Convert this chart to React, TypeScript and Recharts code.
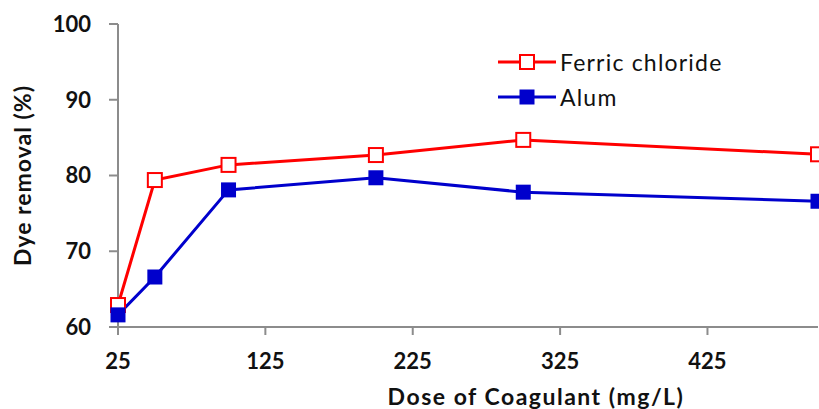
import React from 'react';
import { LineChart, Line, XAxis, YAxis, Legend } from 'recharts';

const doses = [25, 50, 100, 200, 300, 500];
const ferricChloride = [62.9, 79.4, 81.4, 82.7, 84.7, 82.8];
const alum = [61.6, 66.6, 78.1, 79.7, 77.8, 76.6];
const xTicks = [25, 125, 225, 325, 425];
const yTicks = [60, 70, 80, 90, 100];

const data = doses.map((dose, i) => ({ dose, ferric: ferricChloride[i], alum: alum[i] }));

const FONT = 'Lato, "Open Sans", sans-serif';
const AXIS = '#8c8c8c';
const RED = '#ff0000';
const BLUE = '#0000cc';

const HollowSquare = (props: any) => {
  const { cx, cy, index } = props;
  if (cx == null || cy == null) return null;
  return <rect key={`f-${index}`} x={cx - 7} y={cy - 7} width={14} height={14} fill="#fff" stroke={RED} strokeWidth={2} />;
};

const FilledSquare = (props: any) => {
  const { cx, cy, index } = props;
  if (cx == null || cy == null) return null;
  return <rect key={`a-${index}`} x={cx - 7.5} y={cy - 7.5} width={15} height={15} fill={BLUE} />;
};

const LegendContent = () => {
  const rows = [
    { name: 'Ferric chloride', color: RED, filled: false },
    { name: 'Alum', color: BLUE, filled: true },
  ];
  return (
    <div style={{ fontFamily: FONT }}>
      {rows.map((r) => (
        <div key={r.name} style={{ display: 'flex', alignItems: 'center', height: 35 }}>
          <svg width={60} height={20} style={{ marginRight: 2 }}>
            <line x1={0} y1={10} x2={58} y2={10} stroke={r.color} strokeWidth={3} />
            {r.filled ? (
              <rect x={21.5} y={2.5} width={15} height={15} fill={r.color} />
            ) : (
              <rect x={22} y={3} width={14} height={14} fill="#fff" stroke={r.color} strokeWidth={2} />
            )}
          </svg>
          <span style={{ fontSize: 23, letterSpacing: 1.2, color: '#111' }}>{r.name}</span>
        </div>
      ))}
    </div>
  );
};

const XTitle = (props: any) => {
  const { viewBox } = props;
  const cx = viewBox.x + viewBox.width / 2 + 68;
  return (
    <text x={cx} y={405} textAnchor="middle" fontFamily={FONT} fontWeight={700} fontSize={23} letterSpacing={1.5} fill="#111">
      Dose of Coagulant (mg/L)
    </text>
  );
};

const YTitle = (props: any) => {
  const { viewBox } = props;
  const cy = viewBox.y + viewBox.height / 2;
  return (
    <text x={31} y={cy} transform={`rotate(-90, 31, ${cy})`} textAnchor="middle" fontFamily={FONT} fontWeight={700} fontSize={23} letterSpacing={1} fill="#111">
      Dye removal (%)
    </text>
  );
};

export default function App() {
  const tickStyle = { fill: '#111', fontSize: 22, fontWeight: 700, fontFamily: FONT };
  return (
    <div style={{ position: 'absolute', left: 0, top: 0, width: 819, height: 409, background: '#fff' }}>
      <LineChart width={819} height={409} data={data} margin={{ top: 24, right: 1, bottom: 0, left: 0 }}>
        <XAxis
          dataKey="dose"
          type="number"
          domain={[25, 500]}
          ticks={xTicks}
          interval={0}
          stroke={AXIS}
          strokeWidth={2}
          tickSize={8}
          tickMargin={18}
          tick={tickStyle}
          height={82}
          label={<XTitle />}
        />
        <YAxis
          type="number"
          domain={[60, 100]}
          ticks={yTicks}
          interval={0}
          stroke={AXIS}
          strokeWidth={2}
          tickSize={9}
          tickMargin={18}
          tick={tickStyle}
          width={118}
          label={<YTitle />}
        />
        <Legend
          layout="vertical"
          verticalAlign="middle"
          align="center"
          wrapperStyle={{ left: 498, top: 44, width: 260 }}
          content={<LegendContent />}
        />
        <Line
          dataKey="ferric"
          name="Ferric chloride"
          stroke={RED}
          strokeWidth={3}
          dot={HollowSquare}
          isAnimationActive={false}
        />
        <Line
          dataKey="alum"
          name="Alum"
          stroke={BLUE}
          strokeWidth={3}
          dot={FilledSquare}
          isAnimationActive={false}
        />
      </LineChart>
    </div>
  );
}
